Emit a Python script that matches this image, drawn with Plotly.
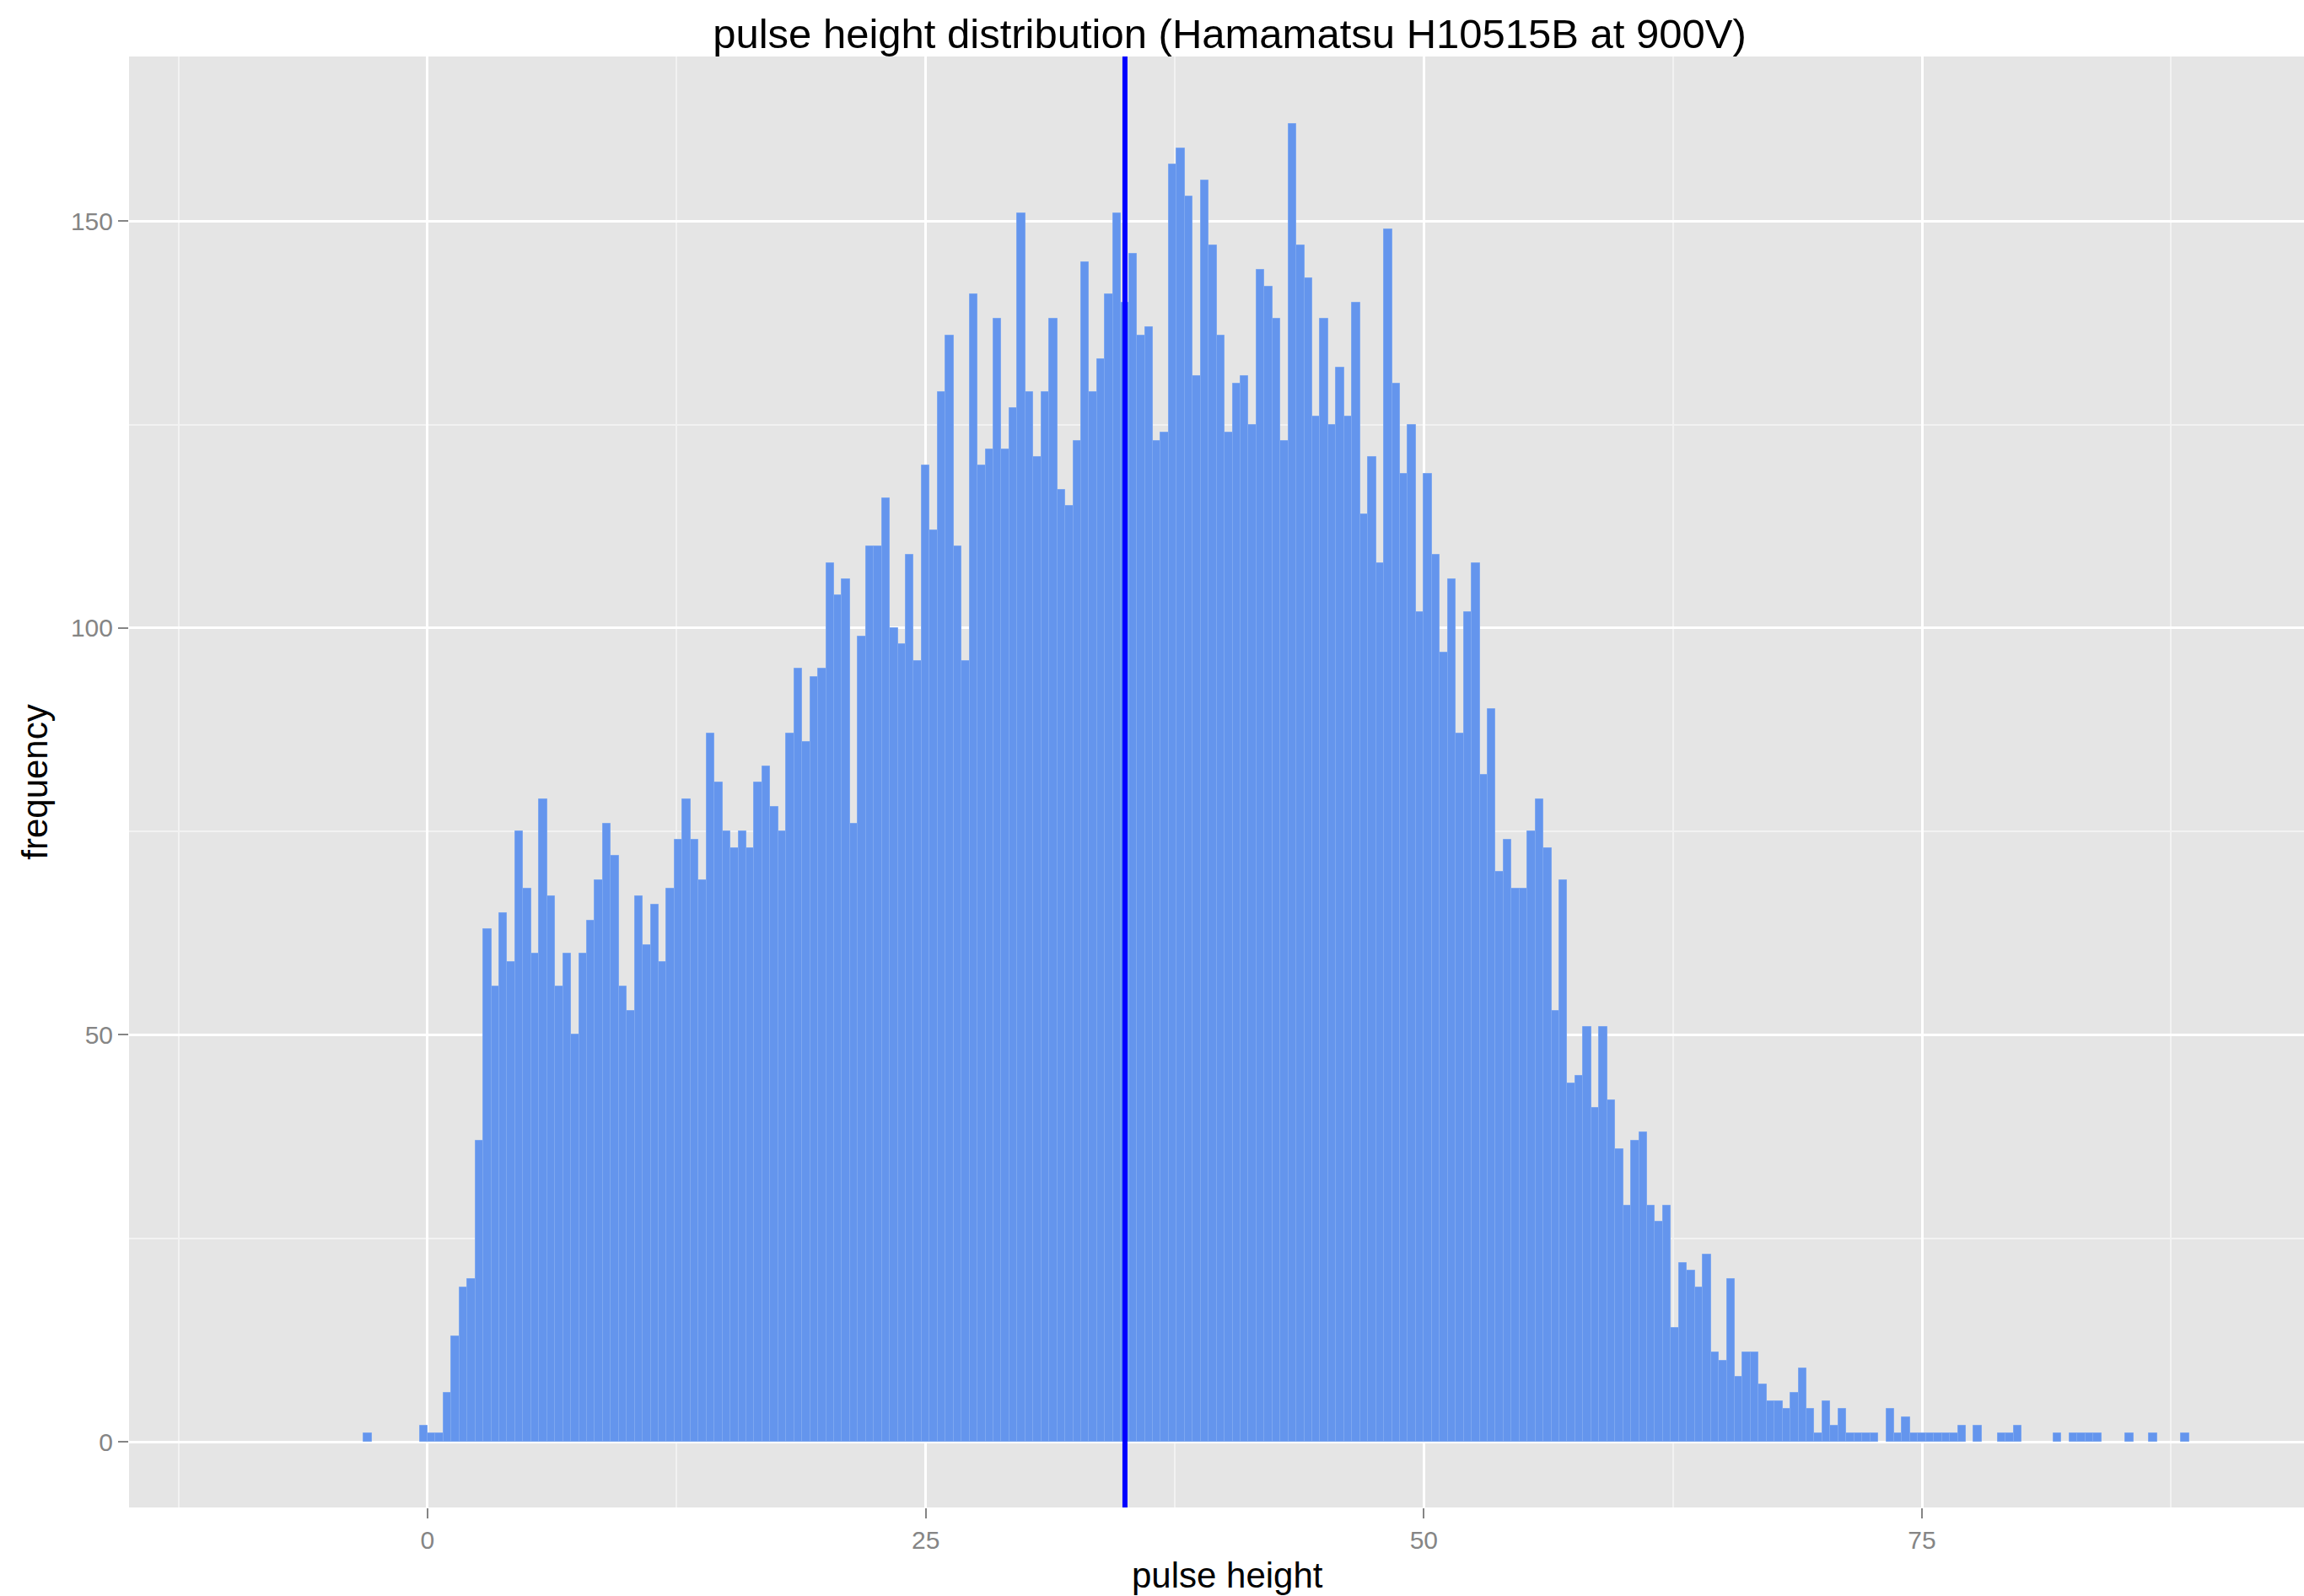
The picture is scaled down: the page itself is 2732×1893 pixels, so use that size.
import plotly.graph_objects as go

# ---- data -------------------------------------------------------------
BIN_START = -3.2   # left edge of first bin (pulse height)
BIN_WIDTH = 0.4
COUNTS = [
    1, 0, 0, 0, 0, 0, 0, 2,                                  # -3.2 .. -0.4
    1, 1, 6, 13, 19, 20, 37, 63, 56, 65,                     # 0.0 ..
    59, 75, 68, 60, 79, 67, 56, 60, 50, 60,
    64, 69, 76, 72, 56, 53, 67, 61, 66, 59,
    68, 74, 79, 74, 69, 87, 81, 75, 73, 75,
    73, 81, 83, 78, 75, 87, 95, 86, 94, 95,
    108, 104, 106, 76, 99, 110, 110, 116, 100, 98,
    109, 96, 120, 112, 129, 136, 110, 96, 141, 120,
    122, 138, 122, 127, 151, 129, 121, 129, 138, 117,
    115, 123, 145, 129, 133, 141, 151, 140, 146, 136,
    137, 123, 124, 157, 159, 153, 131, 155, 147, 136,
    124, 130, 131, 125, 144, 142, 138, 123, 162, 147,
    143, 126, 138, 125, 132, 126, 140, 114, 121, 108,
    149, 130, 119, 125, 102, 119, 109, 97, 106, 87,
    102, 108, 82, 90, 70, 74, 68, 68, 75, 79,
    73, 53, 69, 44, 45, 51, 41, 51, 42, 36,
    29, 37, 38, 29, 27, 29, 14, 22, 21, 19,
    23, 11, 10, 20, 8, 11, 11, 7, 5, 5,
    4, 6, 9, 4, 1, 5, 2, 4, 1, 1,
    1, 1, 0, 4, 1, 3, 1, 1, 1, 1,
    1, 1, 2, 0, 2, 0, 0, 1, 1, 2,
    0, 0, 0, 0, 1, 0, 1, 1, 1, 1,
    0, 0, 0, 1, 0, 0, 1, 0, 0, 0,
    1,
]
MEAN_LINE = 35.0

TITLE = "pulse height distribution (Hamamatsu H10515B at 900V)"
X_TITLE = "pulse height"
Y_TITLE = "frequency"
X_TICKS = [0, 25, 50, 75]
X_MINOR = [-12.5, 12.5, 37.5, 62.5, 87.5]
Y_TICKS = [0, 50, 100, 150]
Y_MINOR = [25, 75, 125]
X_RANGE = [-14.98, 94.17]
Y_RANGE = [-8.08, 170.25]

# ---- figure -----------------------------------------------------------
centers = [BIN_START + BIN_WIDTH * (i + 0.5) for i in range(len(COUNTS))]
ys = [c if c > 0 else None for c in COUNTS]

FONT = "Liberation Sans, Arial, Helvetica, sans-serif"
GREY = "#858585"

fig = go.Figure()
fig.add_trace(go.Bar(
    x=centers, y=ys, width=BIN_WIDTH,
    marker=dict(color="#6495ED", line=dict(color="#7DA7EF", width=1)),
    hoverinfo="x+y", showlegend=False,
))
fig.add_vline(x=MEAN_LINE, line=dict(color="#0000FF", width=6), layer="above")

axis_common = dict(
    showline=False, zeroline=False,
    showgrid=True, gridcolor="#FFFFFF", gridwidth=2.5,
    ticks="outside", ticklen=12, tickwidth=2, tickcolor=GREY,
    tickfont=dict(family=FONT, size=30, color=GREY),
    title_font=dict(family=FONT, size=42, color="#000000"),
)

fig.update_layout(
    width=2732, height=1893,
    margin=dict(l=153, r=0, t=67, b=105, autoexpand=False),
    paper_bgcolor="#FFFFFF", plot_bgcolor="#E5E5E5",
    bargap=0,
    title=dict(text=TITLE, font=dict(family=FONT, size=49, color="#000000"),
               xref="container", x=1458 / 2732, xanchor="center",
               yref="container", y=1 - 40 / 1893, yanchor="middle"),
    xaxis=dict(axis_common, range=X_RANGE, tickvals=X_TICKS,
               minor=dict(tickvals=X_MINOR, showgrid=True, gridcolor="#F2F2F2",
                          gridwidth=1.5, ticks="")),
    yaxis=dict(axis_common, range=Y_RANGE, tickvals=Y_TICKS,
               title=dict(text=Y_TITLE, standoff=14),
               minor=dict(tickvals=Y_MINOR, showgrid=True, gridcolor="#F2F2F2",
                          gridwidth=1.5, ticks="")),
    annotations=[dict(
        text=X_TITLE, showarrow=False,
        xref="paper", x=(1456 - 153) / 2579, xanchor="center",
        yref="paper", y=-(1868 - 1788) / 1721, yanchor="middle",
        font=dict(family=FONT, size=42, color="#000000"),
    )],
)

fig.write_html("out.html", config={"displayModeBar": False},
               post_script="document.body.style.margin='0';")
